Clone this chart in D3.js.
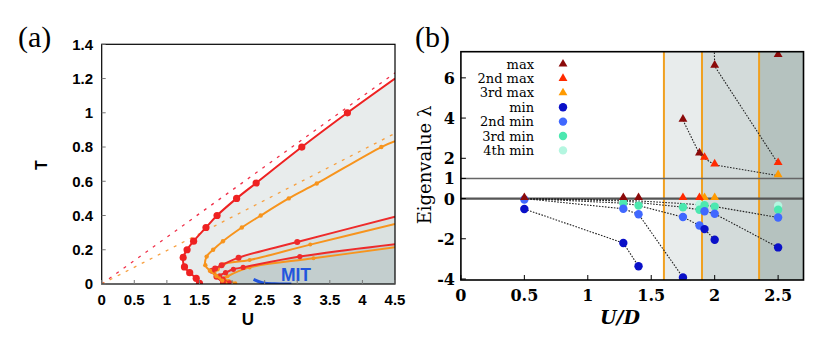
<!DOCTYPE html>
<html><head><meta charset="utf-8">
<script src="https://cdn.jsdelivr.net/npm/d3@7"></script>
<style>body{margin:0;background:#fff}svg{display:block}</style>
</head><body>
<svg id="c" width="831" height="352"></svg>
<script>
// ---------- Panel (a) data ----------
const aTicksU = [0,0.5,1,1.5,2,2.5,3,3.5,4,4.5];
const aTicksT = [0,0.2,0.4,0.6,0.8,1,1.2,1.4];
const redOuterU = [1.50,1.45,1.35,1.27,1.25,1.31,1.41,1.60,1.77,2.07,2.37,3.07,3.77,4.5];
const redOuterT = [0.004,0.033,0.066,0.10,0.155,0.20,0.25,0.33,0.40,0.50,0.59,0.80,1.00,1.20];
const orangeOuterU = [1.85,1.76,1.66,1.59,1.61,1.71,1.86,2.15,2.44,2.87,3.30,4.29,4.5];
const orangeOuterT = [0.02,0.047,0.078,0.11,0.16,0.20,0.25,0.33,0.40,0.50,0.587,0.80,0.834];
const red2U = [1.86,1.76,1.69,1.74,1.84,2.10,3.0,4.5];
const red2T = [0.008,0.043,0.078,0.09,0.11,0.154,0.245,0.393];
const orange2U = [1.90,1.80,1.73,1.78,1.87,2.27,3.2,4.5];
const orange2T = [0.005,0.035,0.065,0.085,0.115,0.14,0.23,0.35];
const red3U = [1.96,1.86,1.81,1.90,2.02,2.17,3.04,4.5];
const red3T = [0.006,0.028,0.048,0.066,0.086,0.097,0.16,0.232];
const orange3U = [2.05,1.95,1.88,1.93,2.27,3.25,4.5];
const orange3T = [0.004,0.018,0.033,0.045,0.097,0.15,0.214];
const mitU = [2.33,2.48,2.65,2.91];
const mitT = [0.027,0.006,0.001,0.0];
const dashRedU = [0,4.5], dashRedT = [0,1.233];
const dashOrangeU = [0,4.5], dashOrangeT = [0,0.88];

// ---------- Panel (b) data ----------
const bTicksX = [0,0.5,1,1.5,2,2.5];
const bTicksY = [-4,-2,0,1,2,4,6];
const bounds = [1.6,1.9,2.35];
const legendNames = ["max","2nd max","3rd max","min","2nd min","3rd min","4th min"];
const maxPts  = [[0.5,0],[1.28,0],[1.4,0],[1.75,3.9],[1.88,2.22],[2.0,6.58],[2.5,7.11]];
const max2Pts = [[1.75,0],[1.88,0],[1.92,2.0],[2.0,1.67],[2.5,1.74]];
const max3Pts = [[1.92,0],[2.0,0],[2.5,1.14]];
const minPts  = [[0.5,-0.52],[1.28,-2.21],[1.4,-3.37],[1.75,-3.92],[1.92,-1.52],[2.0,-2.05],[2.5,-2.43]];
const min2Pts = [[0.5,-0.05],[1.28,-0.51],[1.4,-0.78],[1.75,-0.92],[1.88,-1.34],[1.92,-0.63],[2.0,-0.76],[2.5,-0.94]];
const min3Pts = [[1.28,-0.23],[1.4,-0.35],[1.75,-0.43],[1.88,-0.56],[1.92,-0.33],[2.0,-0.4],[2.5,-0.56]];
const min4Pts = [[1.88,-0.3],[2.5,-0.36]];
const chains = [
  [[1.75,3.9],[1.88,2.22],[1.92,2.0],[2.0,1.67],[2.5,1.14]],
  [[1.96,18],[2.0,6.58],[2.5,1.74]],
  [[0.5,-0.52],[1.28,-2.21],[1.4,-3.37]],
  [[0.5,0],[1.28,-0.51],[1.4,-0.78],[1.75,-3.92]],
  [[0.5,0],[1.28,-0.23],[1.4,-0.35],[1.75,-0.92],[1.88,-1.34],[1.92,-1.52],[2.0,-2.05]],
  [[0.5,0],[1.28,-0.12],[1.4,-0.2],[1.75,-0.43],[1.88,-0.56],[1.92,-0.63],[2.0,-0.76],[2.5,-2.43]],
  [[0.5,0],[1.28,-0.08],[1.4,-0.12],[1.75,-0.25],[1.92,-0.33],[2.0,-0.4],[2.5,-0.94]]
];

const svg = d3.select("#c");
const sans = "'Liberation Sans', Arial, sans-serif";
const serif = "'DejaVu Serif', serif";
const zip = (u,t)=>u.map((v,i)=>[v,t[i]]);

// ================= Panel (a) =================
const xA = d3.scaleLinear().domain([0,4.5]).range([101.7,395]);
const yA = d3.scaleLinear().domain([0,1.4]).range([284,44.3]);
const gA = svg.append("g");
gA.append("defs").append("clipPath").attr("id","clipA").append("rect")
  .attr("x",xA(0)).attr("y",yA(1.4)).attr("width",xA(4.5)-xA(0)).attr("height",yA(0)-yA(1.4));
const pA = gA.append("g").attr("clip-path","url(#clipA)");
const lineA = d3.line().x(d=>xA(d[0])).y(d=>yA(d[1]));
const lineAc = d3.line().x(d=>xA(d[0])).y(d=>yA(d[1])).curve(d3.curveCatmullRom.alpha(0.5));
function region(u,t){ const p = zip(u,t); p.push([4.5,0]); p.push([u[0],0]); return lineA(p)+"Z"; }
pA.append("path").attr("d",region(redOuterU,redOuterT)).attr("fill","#e8ecec");
pA.append("path").attr("d",region(red2U,red2T)).attr("fill","#dae1e0");
pA.append("path").attr("d",region(red3U,red3T)).attr("fill","#c3cece");
// dashed lines
pA.append("path").attr("d",lineA(zip(dashRedU,dashRedT))).attr("stroke","#f0304a").attr("stroke-width",1.3)
  .attr("stroke-dasharray","3,6").attr("fill","none");
pA.append("path").attr("d",lineA(zip(dashOrangeU,dashOrangeT))).attr("stroke","#f7a040").attr("stroke-width",1.3)
  .attr("stroke-dasharray","3,6").attr("fill","none");
function curve(u,t,col,w,r){
  pA.append("path").attr("d",lineAc(zip(u,t))).attr("stroke",col).attr("stroke-width",w).attr("fill","none");
  if(r>0) pA.selectAll(null).data(zip(u,t).slice(0,-1)).join("circle")
    .attr("cx",d=>xA(d[0])).attr("cy",d=>yA(d[1])).attr("r",r).attr("fill",col);
}
curve(orange3U,orange3T,"#f7941d",2,2);
curve(red3U,red3T,"#ee2b2b",2,2.6);
curve(orange2U,orange2T,"#f7941d",2,2);
curve(red2U,red2T,"#ee2b2b",2,3);
curve(orangeOuterU,orangeOuterT,"#f7941d",2,2.2);
curve(redOuterU,redOuterT,"#ee2222",2,3.6);
pA.append("path").attr("d",lineAc(zip(mitU,mitT))).attr("stroke","#2255dd").attr("stroke-width",3).attr("fill","none");
gA.append("text").attr("x",296).attr("y",280.5).attr("text-anchor","middle").attr("font-family",sans)
  .attr("font-weight","bold").attr("font-size",17.5).attr("fill","#2255dd").text("MIT");
// frame + ticks
gA.append("rect").attr("x",xA(0)).attr("y",yA(1.4)).attr("width",xA(4.5)-xA(0)).attr("height",yA(0)-yA(1.4))
  .attr("fill","none").attr("stroke","#000").attr("stroke-width",1.2);
gA.selectAll(".tx").data(aTicksU).join("line").attr("x1",d=>xA(d)).attr("x2",d=>xA(d))
  .attr("y1",yA(0)).attr("y2",yA(0)-4).attr("stroke","#777");
gA.selectAll(".ty").data(aTicksT).join("line").attr("y1",d=>yA(d)).attr("y2",d=>yA(d))
  .attr("x1",xA(0)).attr("x2",xA(0)+4).attr("stroke","#777");
gA.selectAll(".lx").data(aTicksU).join("text").attr("x",d=>xA(d)).attr("y",305).attr("text-anchor","middle")
  .attr("font-family",sans).attr("font-weight","bold").attr("font-size",15).text(d=>d);
gA.selectAll(".ly").data(aTicksT).join("text").attr("x",93).attr("y",d=>yA(d)+5.3).attr("text-anchor","end")
  .attr("font-family",sans).attr("font-weight","bold").attr("font-size",15).text(d=>d);
gA.append("text").attr("x",248).attr("y",325).attr("text-anchor","middle").attr("font-family",sans)
  .attr("font-weight","bold").attr("font-size",17).text("U");
gA.append("text").attr("transform","translate(47,165) rotate(-90)").attr("text-anchor","middle").attr("font-family",sans)
  .attr("font-weight","bold").attr("font-size",16).text("T");
svg.append("text").attr("x",18).attr("y",47).attr("font-family","'Liberation Serif', serif").attr("font-size",30).text("(a)");

// ================= Panel (b) =================
const xB = d3.scaleLinear().domain([0,2.7]).range([460.9,803.5]);
const yB = d3.scaleLinear().domain([-4.05,7.3]).range([280,51.7]);
const gB = svg.append("g");
gB.append("defs").append("clipPath").attr("id","clipB").append("rect")
  .attr("x",xB(0)).attr("y",yB(7.3)).attr("width",xB(2.7)-xB(0)).attr("height",yB(-4.05)-yB(7.3));
const pB = gB.append("g").attr("clip-path","url(#clipB)");
const shadeCols = ["#e8ecec","#d3dbda","#b5c2bf"];
const edges = bounds.concat([2.7]);
bounds.forEach((b,i)=>{
  pB.append("rect").attr("x",xB(b)).attr("y",yB(7.3)).attr("width",xB(edges[i+1])-xB(b))
    .attr("height",yB(-4.05)-yB(7.3)).attr("fill",shadeCols[i]);
});
bounds.forEach(b=>{
  pB.append("line").attr("x1",xB(b)).attr("x2",xB(b)).attr("y1",yB(7.3)).attr("y2",yB(-4.05))
    .attr("stroke","#f0a020").attr("stroke-width",2);
});
pB.append("line").attr("x1",xB(0)).attr("x2",xB(2.7)).attr("y1",yB(1)).attr("y2",yB(1)).attr("stroke","#666").attr("stroke-width",1.5);
pB.append("line").attr("x1",xB(0)).attr("x2",xB(2.7)).attr("y1",yB(0)).attr("y2",yB(0)).attr("stroke","#555").attr("stroke-width",2.2);
const lineB = d3.line().x(d=>xB(d[0])).y(d=>yB(d[1]));
chains.forEach(c=>{
  pB.append("path").attr("d",lineB(c)).attr("fill","none").attr("stroke","#222").attr("stroke-width",1.1)
    .attr("stroke-dasharray","1.6,1.4");
});
const cols = {max:"#8b0a0a",max2:"#ff2a00",max3:"#ff9a00",min:"#0a10c8",min2:"#4068ff",min3:"#4ce8b0",min4:"#b4f6e0"};
const tri = d3.symbol().type(d3.symbolTriangle).size(34);
function circles(pts,col){ pB.selectAll(null).data(pts).join("circle").attr("cx",d=>xB(d[0])).attr("cy",d=>yB(d[1])).attr("r",4.2).attr("fill",col); }
function tris(pts,col){ pB.selectAll(null).data(pts).join("path").attr("d",tri)
  .attr("transform",d=>`translate(${xB(d[0])},${yB(d[1])-1})`).attr("fill",col); }
circles(min4Pts,cols.min4); circles(min3Pts,cols.min3); circles(min2Pts,cols.min2); circles(minPts,cols.min);
tris(max3Pts,cols.max3); tris(max2Pts,cols.max2); tris(maxPts,cols.max);
// frame
gB.append("rect").attr("x",xB(0)).attr("y",yB(7.3)).attr("width",xB(2.7)-xB(0)).attr("height",yB(-4.05)-yB(7.3))
  .attr("fill","none").attr("stroke","#000").attr("stroke-width",1.6);
gB.selectAll(".tx").data(bTicksX).join("line").attr("x1",d=>xB(d)).attr("x2",d=>xB(d))
  .attr("y1",yB(-4.05)).attr("y2",yB(-4.05)-5).attr("stroke","#000");
gB.selectAll(".ty").data(bTicksY).join("line").attr("y1",d=>yB(d)).attr("y2",d=>yB(d))
  .attr("x1",xB(0)).attr("x2",xB(0)+5).attr("stroke","#000");
gB.selectAll(".lx").data(bTicksX).join("text").attr("x",d=>xB(d)).attr("y",301).attr("text-anchor","middle")
  .attr("font-family",serif).attr("font-weight","bold").attr("font-size",16).text(d=>d);
gB.selectAll(".ly").data(bTicksY).join("text").attr("x",455).attr("y",d=>yB(d)+6).attr("text-anchor","end")
  .attr("font-family",serif).attr("font-weight","bold").attr("font-size",16).text(d=>d);
gB.append("text").attr("x",620).attr("y",324).attr("text-anchor","middle").attr("font-family",serif)
  .attr("font-weight","bold").attr("font-style","italic").attr("font-size",19).text("U/D");
gB.append("text").attr("transform","translate(431,165) rotate(-90)").attr("text-anchor","middle")
  .attr("font-family",serif).attr("font-size",18).text("Eigenvalue λ");
svg.append("text").attr("x",415).attr("y",47).attr("font-family","'Liberation Serif', serif").attr("font-size",30).text("(b)");
// legend
const legCols = [cols.max,cols.max2,cols.max3,cols.min,cols.min2,cols.min3,cols.min4];
legendNames.forEach((n,i)=>{
  const y = 64 + i*14.4;
  gB.append("text").attr("x",534).attr("y",y+4.5).attr("text-anchor","end").attr("font-family",serif)
    .attr("font-size",13).text(n);
  if(i<3) gB.append("path").attr("d",tri).attr("transform",`translate(563,${y})`).attr("fill",legCols[i]);
  else gB.append("circle").attr("cx",563).attr("cy",y).attr("r",4.2).attr("fill",legCols[i]);
});
</script>
</body></html>
